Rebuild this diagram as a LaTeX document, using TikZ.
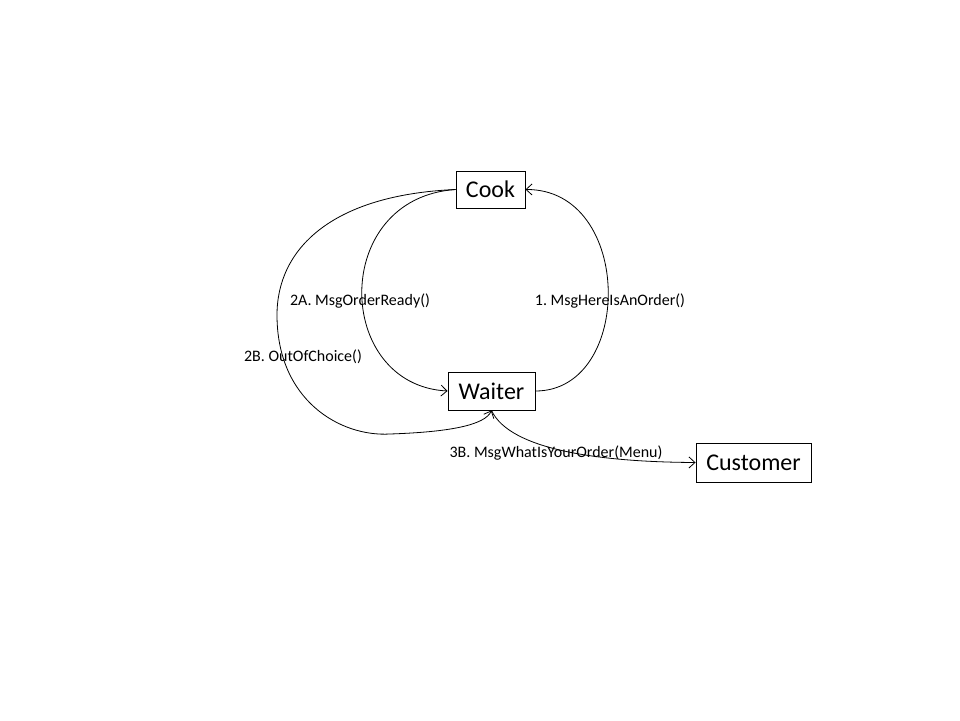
\documentclass[tikz,border=0pt]{standalone}
\usepackage{fontspec}
\setmainfont{Carlito}
\usetikzlibrary{arrows.meta}
\frenchspacing
\begin{document}
\begin{tikzpicture}[x=1pt,y=-1pt,
  box/.style={draw,line width=0.9pt,inner sep=0pt,minimum height=38pt,font=\fontsize{24}{28}\selectfont},
  lbl/.style={inner sep=0pt,font=\fontsize{16}{19}\selectfont},
  conn/.style={line width=0.8pt,-{Straight Barb[length=6pt,width=11pt]}}]
\useasboundingbox (0,0) rectangle (960,720);
\node[box,minimum width=69pt,minimum height=37pt] (cook) at (490.5,189.5) {Cook};
\node[box,minimum width=87pt] (waiter) at (491.5,391) {Waiter};
\node[box,minimum width=115pt,minimum height=39pt] (cust) at (753.5,462.5) {Customer};
\coordinate (wb) at (waiter.south);
\coordinate (m1) at (277,315);
\coordinate (m2) at (390,434);
\draw[conn] (waiter.east) .. controls (634,391) and (634,189) .. (cook.east);
\draw[conn] (cook.west) .. controls (330,198) and (334,385) .. (waiter.west);
\draw[conn] (cook.west) .. controls (330,195) and (277,250) .. (m1)
  .. controls (277,400) and (340,437) .. (m2)
  .. controls (450,432) and (485,425) .. (wb);
\draw[conn] (wb) .. controls (510,450) and (600,462) .. (cust.west);
\node[lbl] (l1) at (610,301) {1. MsgHereIsAnOrder()};
\node[lbl] (l2a) at (360,301) {2A. MsgOrderReady()};
\node[lbl] (l2b) at (303,357) {2B. OutOfChoice()};
\node[lbl] (l3b) at (556,453) {3B. MsgWhatIsYourOrder(Menu)};
\end{tikzpicture}
\end{document}
